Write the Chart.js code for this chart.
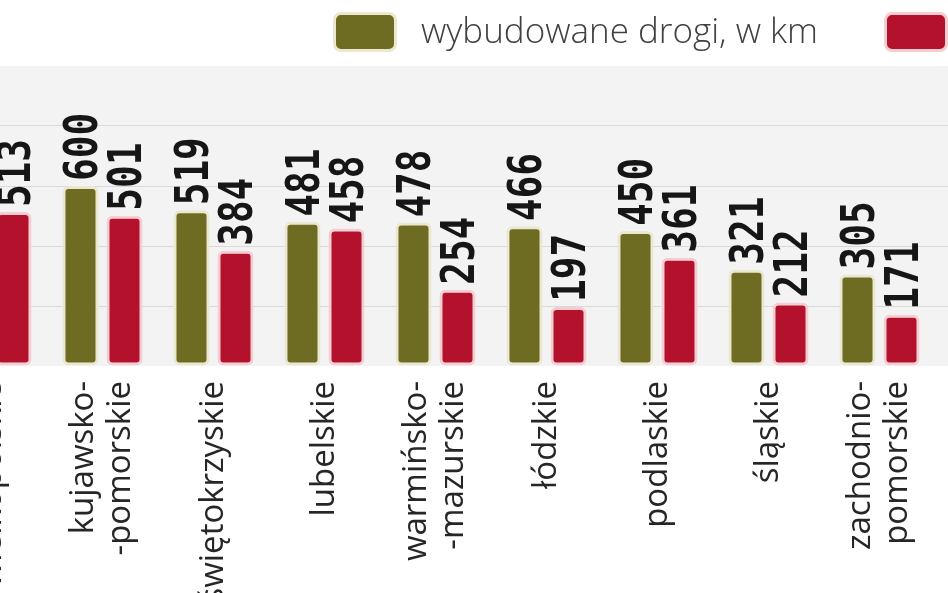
<!DOCTYPE html>
<html lang="pl">
<head>
<meta charset="utf-8">
<title>Drogi wojewódzkie</title>
<script src="https://cdn.jsdelivr.net/npm/chart.js@4.4.1/dist/chart.umd.min.js"></script>
<style>
  html, body { margin: 0; padding: 0; background: #fff; }
  #frame { position: relative; width: 948px; height: 593px; overflow: hidden; background: #fff; }
  #chartBox { position: absolute; left: -64px; top: 0; }
  .swatch { position: absolute; top: 12px; width: 58px; height: 34px; border-radius: 8px; border: 3px solid; }
  .legendText { position: absolute; top: 7px; font-family: "Open Sans", sans-serif; font-weight: 300; font-size: 35px; line-height: 46px; color: #404040; white-space: nowrap; }
</style>
</head>
<body>
<div id="frame">
  <div id="chartBox"><canvas id="roadsChart" width="1110" height="593"></canvas></div>
  <div class="swatch" style="left:333px; background:#6e6c22; border-color:#ebe8cf;"></div>
  <div class="legendText" style="left:421px;">wybudowane drogi, w km</div>
  <div class="swatch" style="left:884px; background:#b3112c; border-color:#f6cdd2;"></div>
</div>

<script>
// Categories (voivodeships); first and last are only partly in the picture
const regions = [
  "wielkopolskie",
  ["kujawsko-", "-pomorskie"],
  "świętokrzyskie",
  "lubelskie",
  ["warmińsko-", "-mazurskie"],
  "łódzkie",
  "podlaskie",
  "śląskie",
  ["zachodnio-", "pomorskie"],
  "",
];

// built roads, km (values outside the frame are unknown -> null)
const builtRoads = [null, 600, 519, 481, 478, 466, 450, 321, 305, null];
// second series (red)
const secondSeries = [513, 501, 384, 458, 254, 197, 361, 212, 171, null];

const legendLabels = ["wybudowane drogi, w km", ""];

// y axis ticks (gridlines only, no labels drawn)
const yTicks = [0, 200, 400, 600, 800, 1000];

const OLIVE = "#6e6c22";
const OLIVE_EDGE = "#ebe8cf";
const RED = "#b3112c";
const RED_EDGE = "#f6cdd2";

// gray panel behind the bars
const panelBackground = {
  id: "panelBackground",
  beforeDraw(chart) {
    const { ctx, chartArea } = chart;
    ctx.save();
    ctx.fillStyle = "#f3f3f3";
    ctx.fillRect(0, chartArea.top, chart.width, chartArea.bottom - chartArea.top);
    ctx.restore();
  },
};

// value labels, rotated and sitting on top of the bars
const valueLabels = {
  id: "valueLabels",
  afterDatasetsDraw(chart) {
    const { ctx } = chart;
    const size = 46;
    ctx.save();
    ctx.font = `bold ${size}px "DejaVu Sans Mono", monospace`;
    ctx.fillStyle = "#161616";
    ctx.textAlign = "left";
    ctx.textBaseline = "alphabetic";
    chart.data.datasets.forEach((ds, di) => {
      chart.getDatasetMeta(di).data.forEach((bar, i) => {
        const v = ds.data[i];
        if (v === null || v === undefined) return;
        ctx.save();
        ctx.translate(bar.x, bar.y - 5);
        ctx.rotate(-Math.PI / 2);
        ctx.scale(0.82, 1);
        // centre the digits on the bar
        ctx.fillText(String(v), 0, size * 0.729 / 2);
        ctx.restore();
      });
    });
    ctx.restore();
  },
};

// rotated category names under the panel
const categoryLabels = {
  id: "categoryLabels",
  afterDraw(chart) {
    const { ctx } = chart;
    const xScale = chart.scales.x;
    const lineHeight = 37;
    ctx.save();
    ctx.font = '33px "Open Sans", sans-serif';
    ctx.fillStyle = "#262626";
    ctx.textAlign = "right";
    ctx.textBaseline = "middle";
    regions.forEach((name, i) => {
      const lines = Array.isArray(name) ? name : [name];
      const x = xScale.getPixelForValue(i);
      ctx.save();
      ctx.translate(x, chart.chartArea.bottom + 15);
      ctx.rotate(-Math.PI / 2);
      lines.forEach((line, j) => {
        ctx.fillText(line, 0, (j - (lines.length - 1) / 2) * lineHeight);
      });
      ctx.restore();
    });
    ctx.restore();
  },
};

const createRoadsChart = () => {
  new Chart(document.querySelector("#roadsChart"), {
    type: "bar",
    data: {
      labels: regions,
      datasets: [
        {
          label: legendLabels[0],
          data: builtRoads,
          backgroundColor: OLIVE,
          borderColor: OLIVE_EDGE,
          borderWidth: 3,
          borderRadius: 6,
          borderSkipped: false,
        },
        {
          label: legendLabels[1],
          data: secondSeries,
          backgroundColor: RED,
          borderColor: RED_EDGE,
          borderWidth: 3,
          borderRadius: 6,
          borderSkipped: false,
        },
      ],
    },
    options: {
      responsive: false,
      animation: false,
      devicePixelRatio: 1,
      layout: { padding: { top: 66, bottom: 227, left: 0, right: 0 } },
      datasets: { bar: { categoryPercentage: 0.793, barPercentage: 0.82 } },
      scales: {
        x: { display: false },
        y: {
          min: yTicks[0],
          max: yTicks[yTicks.length - 1],
          afterBuildTicks: (axis) => {
            axis.ticks = yTicks.map((v) => ({ value: v }));
          },
          ticks: { display: false },
          border: { display: false },
          grid: {
            drawTicks: false,
            lineWidth: 1,
            // no line at the baseline or the top edge
            color: (c) => (c.tick && (c.tick.value === 0 || c.tick.value === 1000) ? "rgba(0,0,0,0)" : "#d9d9d9"),
          },
        },
      },
      plugins: {
        legend: { display: false },
        tooltip: { enabled: false },
      },
    },
    plugins: [panelBackground, valueLabels, categoryLabels],
  });
};

createRoadsChart();
</script>
</body>
</html>
